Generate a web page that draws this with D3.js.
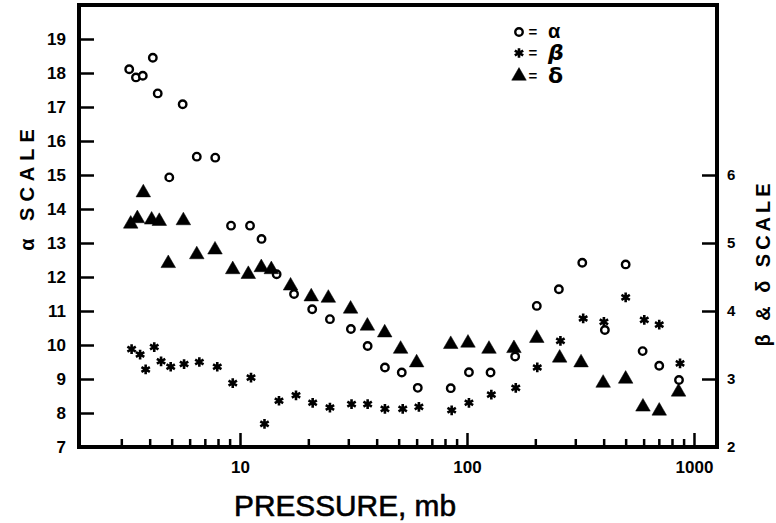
<!DOCTYPE html>
<html><head><meta charset="utf-8">
<script src="https://cdn.jsdelivr.net/npm/d3@7"></script>
<style>body{margin:0;background:#fff}svg{display:block}</style>
</head><body>
<script>
// ---- data ----
const alphaPressure = [3.25,3.48,3.73,4.13,4.34,4.88,5.59,6.45,7.78,9.13,11.07,12.44,14.5,17.3,20.8,24.9,30.8,36.5,43.5,51.6,60.7,84.8,102,127,163,203,254,322,405,500,594,703,859];
const alphaValues   = [18.11,17.87,17.92,18.45,17.40,14.93,17.08,15.54,15.51,13.51,13.51,13.12,12.08,11.50,11.05,10.76,10.47,9.97,9.34,9.19,8.74,8.73,9.20,9.19,9.66,11.15,11.64,12.42,10.44,12.37,9.82,9.39,8.97];

const betaPressure = [3.33,3.63,3.84,4.19,4.49,4.95,5.67,6.62,7.94,9.29,11.18,12.82,14.85,17.65,20.9,24.9,31.0,36.5,43.5,52.1,61.4,85.6,102,128,164,204,258,325,401,500,604,703,868];
const betaValues   = [3.44,3.36,3.14,3.47,3.26,3.18,3.22,3.25,3.18,2.94,3.02,2.34,2.68,2.76,2.65,2.58,2.63,2.63,2.56,2.56,2.59,2.54,2.65,2.77,2.87,3.17,3.56,3.89,3.84,4.20,3.87,3.80,3.23];

const deltaPressure = [3.30,3.53,3.75,4.08,4.41,4.83,5.63,6.45,7.76,9.29,10.88,12.41,13.74,16.7,20.6,24.5,30.7,36.4,43.4,51.0,60.0,84.8,101,125,161,203,256,318,398,500,596,703,855];
const deltaValues   = [5.28,5.36,5.74,5.34,5.32,4.70,5.33,4.83,4.90,4.61,4.54,4.64,4.61,4.37,4.21,4.19,4.03,3.78,3.68,3.44,3.24,3.51,3.53,3.44,3.45,3.60,3.31,3.24,2.94,3.00,2.59,2.53,2.81];

const leftTicks  = [7,8,9,10,11,12,13,14,15,16,17,18,19];
const rightTicks = [2,3,4,5,6];
const xMajorTicks = [10,100,1000];
const xMinorTicks = [3,4,5,6,7,8,9,20,30,40,50,60,70,80,90,200,300,400,500,600,700,800,900];
const xDomain = [1.953,1263];
const leftDomain = [7,20];
const rightDomain = [2,8.5];

const xTitle = "PRESSURE, mb";
const leftTitle = "α SCALE";
const rightTitle = "β & δ SCALE";
const legendLabels = ["α","β","δ"];

// ---- chart ----
const W=776,H=523;
const L=79,R=717,T=5,B=447;
const svg=d3.select("body").append("svg").attr("width",W).attr("height",H);

const x=d3.scaleLog().domain(xDomain).range([L,R]);
const yL=d3.scaleLinear().domain(leftDomain).range([B,T]);
const yR=d3.scaleLinear().domain(rightDomain).range([B,T]);

const font="'Liberation Sans', Arial, sans-serif";

function styleAxis(g,fs){
  g.select(".domain").remove();
  g.selectAll(".tick line").attr("stroke","#000").attr("stroke-width",2.5);
  g.selectAll(".tick text").attr("fill","#000").attr("font-family",font)
    .attr("font-weight","bold").attr("font-size",fs);
}

svg.append("g").attr("transform",`translate(${L},0)`)
  .call(d3.axisLeft(yL).tickValues(leftTicks).tickSize(-15).tickPadding(13).tickFormat(d3.format("d")))
  .call(g=>styleAxis(g,17));

svg.append("g").attr("transform",`translate(${R},0)`)
  .call(d3.axisRight(yR).tickValues(rightTicks).tickSize(-15).tickPadding(10).tickFormat(d3.format("d")))
  .call(g=>styleAxis(g,15));

svg.append("g").attr("transform",`translate(0,${B})`)
  .call(d3.axisBottom(x).tickValues(xMinorTicks).tickSize(-8).tickFormat(""))
  .call(g=>styleAxis(g,16));

svg.append("g").attr("transform",`translate(0,${B})`)
  .call(d3.axisBottom(x).tickValues(xMajorTicks).tickSize(-14).tickPadding(14).tickFormat(d3.format("d")))
  .call(g=>styleAxis(g,17));

// frame
svg.append("rect").attr("x",L).attr("y",T).attr("width",R-L).attr("height",B-T)
  .attr("fill","none").attr("stroke","#000").attr("stroke-width",4);

// markers
const circ=d3.symbol().type(d3.symbolCircle).size(44);
const star=d3.symbol().type(d3.symbolAsterisk).size(66);
const tri=d3.symbol().type(d3.symbolTriangle).size(92);

const alphaData=alphaPressure.map((p,i)=>({p,v:alphaValues[i]}));
const betaData=betaPressure.map((p,i)=>({p,v:betaValues[i]}));
const deltaData=deltaPressure.map((p,i)=>({p,v:deltaValues[i]}));

svg.append("g").selectAll("path").data(alphaData).join("path")
  .attr("d",circ).attr("transform",d=>`translate(${x(d.p)},${yL(d.v)})`)
  .attr("fill","#fff").attr("stroke","#000").attr("stroke-width",2.4);

svg.append("g").selectAll("path").data(betaData).join("path")
  .attr("d",star).attr("transform",d=>`translate(${x(d.p)},${yR(d.v)})`)
  .attr("fill","none").attr("stroke","#000").attr("stroke-width",2.6);

svg.append("g").selectAll("path").data(deltaData).join("path")
  .attr("d",tri).attr("transform",d=>`translate(${x(d.p)},${yR(d.v)})`)
  .attr("fill","#000").attr("stroke","#000").attr("stroke-width",0.5);

// legend
const lg=svg.append("g").attr("font-family",font).attr("font-weight","bold");
const legendRows=[{sym:circ,fill:"#fff",sw:2.4,y:32},{sym:star,fill:"none",sw:2.6,y:53},{sym:tri,fill:"#000",sw:0.5,y:76}];
legendRows.forEach((r,i)=>{
  lg.append("path").attr("d",r.sym).attr("transform",`translate(519,${r.y})`)
    .attr("fill",r.fill).attr("stroke","#000").attr("stroke-width",r.sw);
  lg.append("text").attr("x",533).attr("y",r.y+5).attr("text-anchor","middle")
    .attr("font-size",15).text("=");
  lg.append("text").attr("x",548).attr("y",r.y+(i===0?6:7))
    .attr("font-size",i===0?20:22).attr("font-style",i===1?"italic":"normal")
    .attr("font-family",i===0?font:"'DejaVu Sans', sans-serif")
    .text(legendLabels[i]);
});

// titles
svg.append("text").attr("x",345).attr("y",516).attr("text-anchor","middle")
  .attr("font-family",font).attr("font-size",29).attr("textLength",222).attr("lengthAdjust","spacingAndGlyphs")
  .attr("stroke","#000").attr("stroke-width",0.6)
  .text(xTitle);

svg.append("text").attr("transform","translate(34,187) rotate(-90)").attr("text-anchor","middle")
  .attr("font-family",font).attr("font-weight","bold").attr("font-size",20).attr("letter-spacing",6)
  .text(leftTitle);

svg.append("text").attr("transform","translate(770,263) rotate(-90)").attr("text-anchor","middle")
  .attr("font-family",font).attr("font-weight","bold").attr("font-size",20).attr("letter-spacing",4)
  .text(rightTitle);
</script>
</body></html>
